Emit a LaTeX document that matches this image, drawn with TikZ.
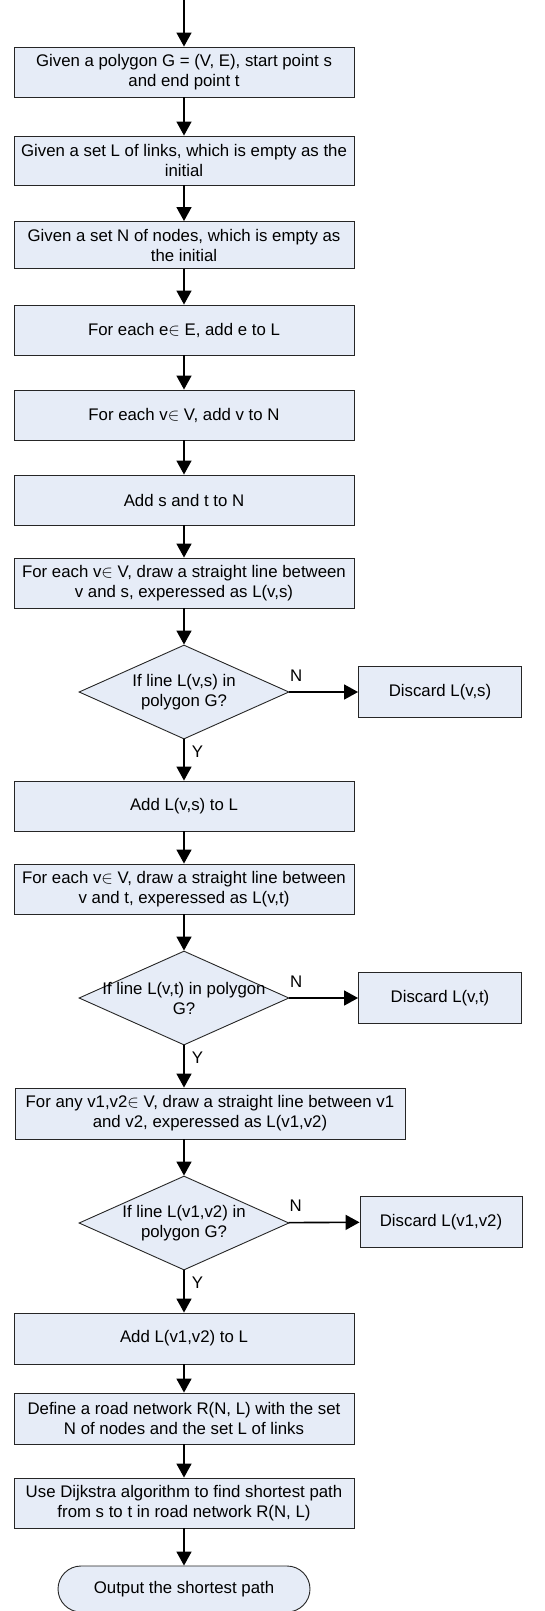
\documentclass[tikz,border=0pt]{standalone}
\usepackage{fontspec}
\setmainfont{Liberation Sans}
\usepackage{tikz}
\usetikzlibrary{shapes.geometric,arrows.meta}

\definecolor{boxblue}{RGB}{230,236,247}
\newcommand{\flowfont}{\fontsize{16.8pt}{20pt}\selectfont}

\begin{document}
\begin{tikzpicture}[x=1pt, y=-1pt, >={Triangle[length=14pt, width=15pt]},
    box/.style={draw=black!85, fill=boxblue, line width=0.9pt, minimum width=340pt, minimum height=50pt, inner sep=2pt, align=center, font=\flowfont},
    discard/.style={box, minimum width=163pt, minimum height=51pt},
    decision/.style={diamond, draw=black!85, fill=boxblue, line width=0.9pt, minimum width=210pt, minimum height=94pt, inner sep=0pt},
    dtext/.style={align=center, font=\flowfont, inner sep=0pt},
    yn/.style={font=\flowfont, inner sep=1pt},
    arr/.style={->, line width=1.6pt}]
    \useasboundingbox (0,0) rectangle (545,1611);

    \coordinate (start) at (184,0);
    \node[box] (b1) at (184,72) {Given a polygon G = (V, E), start point s\\and end point t};
    \node[box, minimum height=49pt] (b2) at (184,160.5) {Given a set L of links, which is empty as the\\initial};
    \node[box, minimum height=47pt] (b3) at (184,245) {Given a set N of nodes, which is empty as\\the initial};
    \node[box] (b4) at (184,330) {For each e$\in$ E, add e to L};
    \node[box] (b5) at (184,415) {For each v$\in$ V, add v to N};
    \node[box] (b6) at (184,500) {Add s and t to N};
    \node[box] (b7) at (184,583) {For each v$\in$ V, draw a straight line between\\v and s, experessed as L(v,s)};

    \node[decision] (d1) at (184,692) {};
    \node[dtext] (d1t) at (d1) {If line L(v,s) in\\polygon G?};
    \node[discard] (x1) at (440,692) {Discard L(v,s)};

    \node[box] (b8) at (184,806) {Add L(v,s) to L};
    \node[box] (b9) at (184,889) {For each v$\in$ V, draw a straight line between\\v and t, experessed as L(v,t)};

    \node[decision] (d2) at (184,998) {};
    \node[dtext] (d2t) at (d2) {If line L(v,t) in polygon\\G?};
    \node[discard] (x2) at (440,998) {Discard L(v,t)};

    \node[box, minimum width=390pt, minimum height=51pt] (b10) at (210,1113.5) {For any v1,v2$\in$ V, draw a straight line between v1\\and v2, experessed as L(v1,v2)};

    \node[decision] (d3) at (184,1223) {};
    \node[dtext] (d3t) at (d3) {If line L(v1,v2) in\\polygon G?};
    \node[discard, minimum width=162pt] (x3) at (441,1222) {Discard L(v1,v2)};

    \node[box, minimum height=51pt] (b11) at (184,1338.5) {Add L(v1,v2) to L};
    \node[box, minimum height=51pt] (b12) at (184,1418.5) {Define a road network R(N, L) with the set\\N of nodes and the set L of links};
    \node[box] (b13) at (184,1503) {Use Dijkstra algorithm to find shortest path\\from s to t in road network R(N, L)};
    \node[box, minimum width=252pt, minimum height=46pt, rounded corners=23pt] (out) at (184,1589) {Output the shortest path};

    % connectors
    \draw[arr] (start) -- (b1);
    \draw[arr] (b1) -- (b2);
    \draw[arr] (b2) -- (b3);
    \draw[arr] (b3) -- (b4);
    \draw[arr] (b4) -- (b5);
    \draw[arr] (b5) -- (b6);
    \draw[arr] (b6) -- (b7);
    \draw[arr] (b7) -- (d1);
    \draw[arr] (d1) -- node[yn, pos=0.1, above=9pt] {N} (x1);
    \draw[arr] (d1) -- node[yn, pos=0.3, right=6pt] {Y} (b8);
    \draw[arr] (b8) -- (b9);
    \draw[arr] (b9) -- (d2);
    \draw[arr] (d2) -- node[yn, pos=0.1, above=9pt] {N} (x2);
    \draw[arr] (d2) -- node[yn, pos=0.3, right=6pt] {Y} (d2 |- b10.north);
    \draw[arr] (b10.south -| d3) -- (d3);
    \draw[arr] (d3) -- node[yn, pos=0.1, above=9pt] {N} (x3);
    \draw[arr] (d3) -- node[yn, pos=0.3, right=6pt] {Y} (b11);
    \draw[arr] (b11) -- (b12);
    \draw[arr] (b12) -- (b13);
    \draw[arr] (b13) -- (out);
\end{tikzpicture}
\end{document}
